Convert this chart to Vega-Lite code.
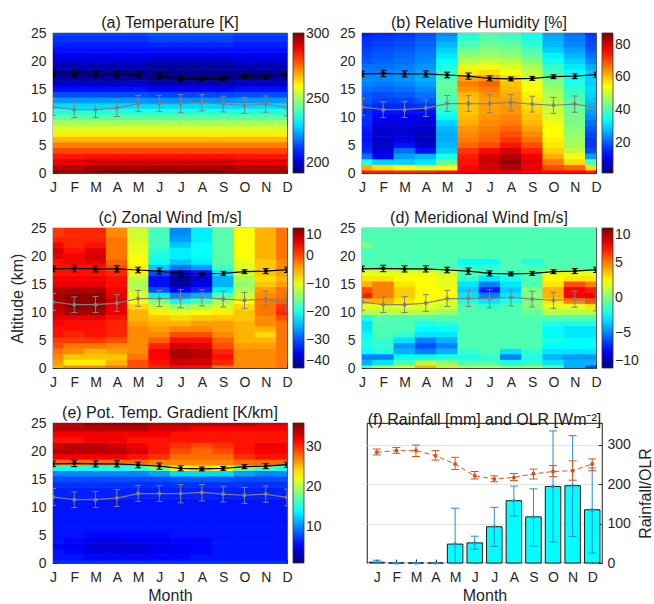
{
"$schema": "https://vega.github.io/schema/vega-lite/v6.json",
"autosize": {"type": "pad"},
"padding": {"left": 8, "top": 14, "right": 0, "bottom": 0},
"config": {
  "font": "Liberation Sans",
  "view": {"stroke": "#444", "strokeWidth": 1.2},
  "title": {"font": "Liberation Sans", "fontSize": 16, "fontWeight": "normal", "color": "#1a1a1a", "frame": "group", "anchor": "middle", "offset": -5},
  "axis": {"labelFont": "Liberation Sans", "labelFontSize": 14, "labelColor": "#262626", "titleFont": "Liberation Sans", "titleFontSize": 16, "titleFontWeight": "normal", "titleColor": "#262626", "grid": false, "domain": false, "ticks": true, "tickSize": -4, "tickColor": "#262626", "labelPadding": 11, "zindex": 1, "labelFlush": false, "labelOverlap": false, "labelBound": false},
  "legend": {"gradientLength": 140, "gradientThickness": 11, "offset": 6, "labelOffset": 5, "gradientStrokeColor": "#333", "gradientStrokeWidth": 0.8, "labelFont": "Liberation Sans", "labelFontSize": 14, "labelColor": "#262626", "labelOverlap": false, "padding": 0}
},
"datasets": {
"lines": [
{"m":1,"c":17.7,"cl":17.2,"ch":18.2,"g":11.8,"gl":10.3,"gh":13.3},
{"m":2,"c":17.8,"cl":17.2,"ch":18.35,"g":11.3,"gl":9.9,"gh":12.7},
{"m":3,"c":17.7,"cl":17.15,"ch":18.25,"g":11.3,"gl":9.9,"gh":12.75},
{"m":4,"c":17.7,"cl":17.15,"ch":18.25,"g":11.6,"gl":10.1,"gh":13.1},
{"m":5,"c":17.5,"cl":17.0,"ch":18.0,"g":12.4,"gl":11.0,"gh":13.85},
{"m":6,"c":17.3,"cl":16.75,"ch":17.85,"g":12.4,"gl":11.0,"gh":13.85},
{"m":7,"c":16.9,"cl":16.45,"ch":17.35,"g":12.4,"gl":10.75,"gh":14.0},
{"m":8,"c":16.8,"cl":16.45,"ch":17.15,"g":12.6,"gl":11.1,"gh":14.0},
{"m":9,"c":16.9,"cl":16.55,"ch":17.25,"g":12.3,"gl":10.9,"gh":13.7},
{"m":10,"c":17.2,"cl":16.85,"ch":17.55,"g":12.1,"gl":10.65,"gh":13.5},
{"m":11,"c":17.3,"cl":16.85,"ch":17.75,"g":12.3,"gl":10.85,"gh":13.75},
{"m":12,"c":17.55,"cl":17.05,"ch":18.0,"g":11.7,"gl":10.2,"gh":13.2}
],
"f": [
{"m":1,"r":2,"rl":0,"rh":7,"o":281,"ol":274,"oh":289},
{"m":2,"r":0,"rl":0,"rh":0,"o":285,"ol":278,"oh":293},
{"m":3,"r":0,"rl":0,"rh":1,"o":285,"ol":270,"oh":299},
{"m":4,"r":0,"rl":0,"rh":0,"o":272,"ol":261,"oh":285},
{"m":5,"r":48,"rl":0,"rh":139,"o":251,"ol":237,"oh":268},
{"m":6,"r":51,"rl":35,"rh":68,"o":221,"ol":213,"oh":232},
{"m":7,"r":92,"rl":42,"rh":141,"o":213,"ol":206,"oh":221},
{"m":8,"r":158,"rl":119,"rh":195,"o":217,"ol":209,"oh":227},
{"m":9,"r":117,"rl":43,"rh":188,"o":226,"ol":213,"oh":238},
{"m":10,"r":194,"rl":53,"rh":335,"o":232,"ol":219,"oh":247},
{"m":11,"r":196,"rl":67,"rh":323,"o":234,"ol":210,"oh":259},
{"m":12,"r":135,"rl":25,"rh":241,"o":251,"ol":234,"oh":264}
],
"grid": [
{"m":1,"z":0,"T":299,"R":74,"U":-5,"V":-1,"P":7},
{"m":1,"z":1,"T":295,"R":62,"U":-4,"V":-4,"P":6},
{"m":1,"z":2,"T":290,"R":36,"U":-3,"V":-5,"P":6},
{"m":1,"z":3,"T":285,"R":22,"U":-2,"V":-2.5,"P":5.5},
{"m":1,"z":4,"T":280,"R":16,"U":0,"V":-2,"P":6},
{"m":1,"z":5,"T":274,"R":15,"U":1,"V":-2,"P":6},
{"m":1,"z":6,"T":268,"R":14,"U":3,"V":-2.5,"P":6},
{"m":1,"z":7,"T":262,"R":14,"U":3,"V":-3,"P":6},
{"m":1,"z":8,"T":256,"R":15,"U":4,"V":-3,"P":6},
{"m":1,"z":9,"T":250,"R":16,"U":5,"V":-2,"P":6},
{"m":1,"z":10,"T":243,"R":17,"U":6,"V":1,"P":6},
{"m":1,"z":11,"T":236,"R":16,"U":7,"V":2,"P":6},
{"m":1,"z":12,"T":229,"R":18,"U":8,"V":4,"P":6.5},
{"m":1,"z":13,"T":222,"R":20,"U":8,"V":7,"P":6.5},
{"m":1,"z":14,"T":214,"R":20,"U":7,"V":6,"P":7},
{"m":1,"z":15,"T":207,"R":22,"U":5,"V":4,"P":8},
{"m":1,"z":16,"T":200,"R":24,"U":4,"V":3,"P":10},
{"m":1,"z":17,"T":195,"R":24,"U":3,"V":2,"P":15},
{"m":1,"z":18,"T":194,"R":23,"U":3,"V":-1,"P":28},
{"m":1,"z":19,"T":197,"R":22,"U":3,"V":-1,"P":32},
{"m":1,"z":20,"T":201,"R":20,"U":5,"V":-1,"P":34},
{"m":1,"z":21,"T":204,"R":19,"U":6,"V":-1,"P":33},
{"m":1,"z":22,"T":207,"R":18,"U":4,"V":0,"P":31},
{"m":1,"z":23,"T":209,"R":17,"U":2,"V":-1,"P":32},
{"m":1,"z":24,"T":211,"R":16,"U":1,"V":-1,"P":34},
{"m":1,"z":25,"T":213,"R":15,"U":1,"V":-1,"P":34},
{"m":2,"z":0,"T":299,"R":74,"U":-3,"V":1,"P":7},
{"m":2,"z":1,"T":295,"R":58,"U":-8,"V":-3,"P":6},
{"m":2,"z":2,"T":290,"R":30,"U":-6,"V":-5,"P":5.5},
{"m":2,"z":3,"T":285,"R":12,"U":-3,"V":-2,"P":5},
{"m":2,"z":4,"T":280,"R":9,"U":-2,"V":-1.5,"P":5.5},
{"m":2,"z":5,"T":274,"R":8,"U":1,"V":-1.5,"P":6},
{"m":2,"z":6,"T":268,"R":8,"U":2,"V":-1,"P":6},
{"m":2,"z":7,"T":262,"R":8,"U":3,"V":-1,"P":6},
{"m":2,"z":8,"T":256,"R":9,"U":3,"V":-1,"P":6},
{"m":2,"z":9,"T":250,"R":10,"U":5,"V":-1,"P":6},
{"m":2,"z":10,"T":243,"R":12,"U":8,"V":1,"P":6},
{"m":2,"z":11,"T":236,"R":14,"U":9,"V":2,"P":6},
{"m":2,"z":12,"T":229,"R":16,"U":9,"V":4,"P":6.5},
{"m":2,"z":13,"T":222,"R":18,"U":9,"V":5,"P":6.5},
{"m":2,"z":14,"T":214,"R":19,"U":8,"V":5,"P":7},
{"m":2,"z":15,"T":207,"R":21,"U":5,"V":5,"P":8},
{"m":2,"z":16,"T":200,"R":23,"U":4,"V":3,"P":10},
{"m":2,"z":17,"T":195,"R":24,"U":3,"V":2,"P":15},
{"m":2,"z":18,"T":194,"R":23,"U":3,"V":-1,"P":28},
{"m":2,"z":19,"T":197,"R":22,"U":4,"V":-1,"P":32},
{"m":2,"z":20,"T":201,"R":21,"U":4,"V":-1,"P":34},
{"m":2,"z":21,"T":204,"R":20,"U":3,"V":-1,"P":34},
{"m":2,"z":22,"T":207,"R":19,"U":2,"V":-1,"P":31},
{"m":2,"z":23,"T":209,"R":18,"U":2,"V":-1,"P":32},
{"m":2,"z":24,"T":211,"R":17,"U":2,"V":-1,"P":34},
{"m":2,"z":25,"T":213,"R":16,"U":2,"V":-1,"P":34},
{"m":3,"z":0,"T":301,"R":74,"U":-3,"V":2,"P":7},
{"m":3,"z":1,"T":297,"R":55,"U":-8,"V":-1,"P":5.5},
{"m":3,"z":2,"T":292,"R":30,"U":-6,"V":-2.5,"P":4.5},
{"m":3,"z":3,"T":286,"R":26,"U":-5,"V":-4,"P":4},
{"m":3,"z":4,"T":280,"R":22,"U":-2,"V":-4.5,"P":4.5},
{"m":3,"z":5,"T":274,"R":14,"U":1,"V":-3,"P":5.5},
{"m":3,"z":6,"T":268,"R":10,"U":3,"V":-1.5,"P":6},
{"m":3,"z":7,"T":262,"R":9,"U":3,"V":-1,"P":6},
{"m":3,"z":8,"T":256,"R":9,"U":3,"V":-1,"P":6},
{"m":3,"z":9,"T":250,"R":10,"U":5,"V":-1,"P":6},
{"m":3,"z":10,"T":243,"R":12,"U":8,"V":1,"P":6},
{"m":3,"z":11,"T":236,"R":14,"U":9,"V":2,"P":6},
{"m":3,"z":12,"T":229,"R":16,"U":9,"V":3,"P":6.5},
{"m":3,"z":13,"T":222,"R":18,"U":9,"V":3.5,"P":6.5},
{"m":3,"z":14,"T":214,"R":20,"U":8,"V":3.5,"P":7},
{"m":3,"z":15,"T":207,"R":22,"U":5,"V":3,"P":8},
{"m":3,"z":16,"T":200,"R":24,"U":4,"V":2.5,"P":10},
{"m":3,"z":17,"T":195,"R":25,"U":3,"V":2,"P":15},
{"m":3,"z":18,"T":194,"R":24,"U":3,"V":-1,"P":28},
{"m":3,"z":19,"T":197,"R":23,"U":5,"V":-1,"P":32},
{"m":3,"z":20,"T":201,"R":22,"U":6,"V":-1,"P":34},
{"m":3,"z":21,"T":204,"R":21,"U":5,"V":-1,"P":34},
{"m":3,"z":22,"T":207,"R":20,"U":3,"V":-1,"P":32},
{"m":3,"z":23,"T":209,"R":19,"U":2,"V":-1,"P":32},
{"m":3,"z":24,"T":211,"R":18,"U":2,"V":-1,"P":34},
{"m":3,"z":25,"T":213,"R":17,"U":2,"V":-1,"P":35},
{"m":4,"z":0,"T":301,"R":74,"U":-2,"V":4,"P":7},
{"m":4,"z":1,"T":297,"R":52,"U":-5,"V":1,"P":5.5},
{"m":4,"z":2,"T":292,"R":32,"U":-6,"V":-2.5,"P":4.5},
{"m":4,"z":3,"T":286,"R":28,"U":-4,"V":-5,"P":4},
{"m":4,"z":4,"T":280,"R":14,"U":-3,"V":-6,"P":4.5},
{"m":4,"z":5,"T":274,"R":8,"U":0,"V":-5,"P":5.5},
{"m":4,"z":6,"T":268,"R":7,"U":2,"V":-3,"P":6},
{"m":4,"z":7,"T":262,"R":7,"U":2,"V":-2.5,"P":6},
{"m":4,"z":8,"T":256,"R":8,"U":2,"V":-2,"P":6},
{"m":4,"z":9,"T":250,"R":9,"U":3,"V":-1,"P":6},
{"m":4,"z":10,"T":243,"R":11,"U":5,"V":1,"P":6},
{"m":4,"z":11,"T":236,"R":14,"U":5,"V":2,"P":6},
{"m":4,"z":12,"T":229,"R":17,"U":6,"V":2.5,"P":6.5},
{"m":4,"z":13,"T":222,"R":20,"U":5,"V":2.5,"P":6.5},
{"m":4,"z":14,"T":214,"R":22,"U":4,"V":2.5,"P":7},
{"m":4,"z":15,"T":207,"R":24,"U":3,"V":2.5,"P":8},
{"m":4,"z":16,"T":200,"R":26,"U":3,"V":2.5,"P":10},
{"m":4,"z":17,"T":195,"R":27,"U":2,"V":2,"P":15},
{"m":4,"z":18,"T":194,"R":26,"U":0,"V":-1,"P":28},
{"m":4,"z":19,"T":197,"R":25,"U":-1,"V":-1,"P":32},
{"m":4,"z":20,"T":201,"R":24,"U":-2,"V":-1,"P":34},
{"m":4,"z":21,"T":204,"R":23,"U":-2,"V":-1,"P":33},
{"m":4,"z":22,"T":207,"R":22,"U":-2,"V":-1,"P":32},
{"m":4,"z":23,"T":209,"R":21,"U":-2,"V":-1,"P":32},
{"m":4,"z":24,"T":211,"R":20,"U":-3,"V":-1,"P":34},
{"m":4,"z":25,"T":213,"R":19,"U":-3,"V":-1,"P":35},
{"m":5,"z":0,"T":301,"R":76,"U":0,"V":3,"P":7},
{"m":5,"z":1,"T":297,"R":55,"U":0,"V":0,"P":5.5},
{"m":5,"z":2,"T":292,"R":42,"U":-2,"V":-2,"P":4.5},
{"m":5,"z":3,"T":286,"R":36,"U":-3,"V":-4,"P":4},
{"m":5,"z":4,"T":280,"R":30,"U":-3,"V":-5,"P":5},
{"m":5,"z":5,"T":274,"R":28,"U":-3,"V":-4,"P":5.5},
{"m":5,"z":6,"T":268,"R":27,"U":-3,"V":-3,"P":6},
{"m":5,"z":7,"T":262,"R":27,"U":-3,"V":-2.5,"P":6},
{"m":5,"z":8,"T":256,"R":28,"U":-4,"V":-1.5,"P":6},
{"m":5,"z":9,"T":250,"R":30,"U":-5,"V":-1,"P":6},
{"m":5,"z":10,"T":243,"R":34,"U":-5,"V":0.5,"P":6},
{"m":5,"z":11,"T":236,"R":37,"U":-7,"V":1.5,"P":6},
{"m":5,"z":12,"T":229,"R":39,"U":-9,"V":2,"P":6.5},
{"m":5,"z":13,"T":222,"R":40,"U":-10,"V":2.5,"P":6.5},
{"m":5,"z":14,"T":214,"R":41,"U":-12,"V":2.5,"P":7},
{"m":5,"z":15,"T":207,"R":42,"U":-13,"V":2,"P":8},
{"m":5,"z":16,"T":200,"R":42,"U":-12,"V":2,"P":10},
{"m":5,"z":17,"T":195,"R":40,"U":-8,"V":1.5,"P":16},
{"m":5,"z":18,"T":194,"R":38,"U":-8,"V":-1,"P":28},
{"m":5,"z":19,"T":197,"R":36,"U":-9,"V":-1,"P":31},
{"m":5,"z":20,"T":201,"R":34,"U":-9,"V":-1,"P":33},
{"m":5,"z":21,"T":204,"R":32,"U":-10,"V":-1,"P":32},
{"m":5,"z":22,"T":207,"R":30,"U":-10,"V":-1,"P":31},
{"m":5,"z":23,"T":209,"R":28,"U":-11,"V":-1,"P":32},
{"m":5,"z":24,"T":211,"R":26,"U":-11,"V":-1,"P":34},
{"m":5,"z":25,"T":213,"R":24,"U":-11,"V":-1,"P":35},
{"m":6,"z":0,"T":301,"R":78,"U":2,"V":1,"P":7},
{"m":6,"z":1,"T":297,"R":76,"U":3,"V":-1,"P":5.5},
{"m":6,"z":2,"T":292,"R":75,"U":4,"V":-2,"P":5},
{"m":6,"z":3,"T":286,"R":74,"U":4,"V":-1.5,"P":4.5},
{"m":6,"z":4,"T":280,"R":72,"U":2,"V":-1,"P":5},
{"m":6,"z":5,"T":274,"R":68,"U":-1,"V":-1,"P":5.5},
{"m":6,"z":6,"T":268,"R":66,"U":-3,"V":-1,"P":6},
{"m":6,"z":7,"T":262,"R":65,"U":-4,"V":-1,"P":6},
{"m":6,"z":8,"T":256,"R":64,"U":-5,"V":-1,"P":6},
{"m":6,"z":9,"T":250,"R":62,"U":-6,"V":-1,"P":6},
{"m":6,"z":10,"T":243,"R":61,"U":-8,"V":-1,"P":6},
{"m":6,"z":11,"T":236,"R":60,"U":-12,"V":-1,"P":6},
{"m":6,"z":12,"T":229,"R":60,"U":-15,"V":-2,"P":6.5},
{"m":6,"z":13,"T":221,"R":60,"U":-22,"V":-3,"P":6.5},
{"m":6,"z":14,"T":213,"R":61,"U":-30,"V":-3.5,"P":7},
{"m":6,"z":15,"T":205,"R":64,"U":-33,"V":-3,"P":8},
{"m":6,"z":16,"T":198,"R":66,"U":-33,"V":-1.5,"P":11},
{"m":6,"z":17,"T":193,"R":63,"U":-30,"V":-1,"P":18},
{"m":6,"z":18,"T":193,"R":57,"U":-24,"V":-1.5,"P":27},
{"m":6,"z":19,"T":195,"R":53,"U":-21,"V":-2.5,"P":30},
{"m":6,"z":20,"T":199,"R":49,"U":-20,"V":-1,"P":31},
{"m":6,"z":21,"T":203,"R":46,"U":-19,"V":-1,"P":31},
{"m":6,"z":22,"T":207,"R":43,"U":-18,"V":-1,"P":31},
{"m":6,"z":23,"T":210,"R":40,"U":-18,"V":-1,"P":32},
{"m":6,"z":24,"T":213,"R":38,"U":-18,"V":-1,"P":33},
{"m":6,"z":25,"T":215,"R":36,"U":-18,"V":-1,"P":34},
{"m":7,"z":0,"T":301,"R":78,"U":3,"V":1,"P":7},
{"m":7,"z":1,"T":297,"R":80,"U":6,"V":-1,"P":5.5},
{"m":7,"z":2,"T":292,"R":81,"U":8,"V":-1.5,"P":5},
{"m":7,"z":3,"T":286,"R":80,"U":8,"V":-1,"P":5},
{"m":7,"z":4,"T":280,"R":76,"U":6,"V":-1,"P":5.5},
{"m":7,"z":5,"T":274,"R":70,"U":3,"V":-1,"P":6},
{"m":7,"z":6,"T":268,"R":68,"U":0,"V":-1,"P":6},
{"m":7,"z":7,"T":262,"R":67,"U":-3,"V":-1,"P":6},
{"m":7,"z":8,"T":256,"R":66,"U":-5,"V":-1,"P":6},
{"m":7,"z":9,"T":250,"R":65,"U":-7,"V":-1,"P":6},
{"m":7,"z":10,"T":243,"R":64,"U":-10,"V":-1,"P":6},
{"m":7,"z":11,"T":236,"R":63,"U":-14,"V":-1.5,"P":6},
{"m":7,"z":12,"T":229,"R":63,"U":-21,"V":-3,"P":6.5},
{"m":7,"z":13,"T":221,"R":63,"U":-27,"V":-5,"P":6.5},
{"m":7,"z":14,"T":213,"R":64,"U":-34,"V":-7,"P":7},
{"m":7,"z":15,"T":205,"R":66,"U":-38,"V":-5,"P":8.5},
{"m":7,"z":16,"T":198,"R":68,"U":-39,"V":-3,"P":13},
{"m":7,"z":17,"T":193,"R":64,"U":-36,"V":-1.5,"P":23},
{"m":7,"z":18,"T":193,"R":58,"U":-28,"V":-1.5,"P":27},
{"m":7,"z":19,"T":195,"R":54,"U":-24,"V":-2.5,"P":28},
{"m":7,"z":20,"T":199,"R":50,"U":-22,"V":-1,"P":29},
{"m":7,"z":21,"T":203,"R":47,"U":-22,"V":-1,"P":30},
{"m":7,"z":22,"T":207,"R":45,"U":-24,"V":-1,"P":31},
{"m":7,"z":23,"T":210,"R":43,"U":-26,"V":-1,"P":31},
{"m":7,"z":24,"T":213,"R":41,"U":-27,"V":-1,"P":33},
{"m":7,"z":25,"T":215,"R":40,"U":-27,"V":-1,"P":34},
{"m":8,"z":0,"T":301,"R":78,"U":3,"V":0.5,"P":7},
{"m":8,"z":1,"T":297,"R":83,"U":6,"V":-2,"P":6},
{"m":8,"z":2,"T":292,"R":85,"U":7,"V":-5,"P":5.5},
{"m":8,"z":3,"T":286,"R":83,"U":7,"V":-3,"P":5.5},
{"m":8,"z":4,"T":280,"R":80,"U":5,"V":-1,"P":5.5},
{"m":8,"z":5,"T":274,"R":75,"U":3,"V":-1,"P":6},
{"m":8,"z":6,"T":268,"R":72,"U":0,"V":-1,"P":6},
{"m":8,"z":7,"T":262,"R":70,"U":-3,"V":-1,"P":6},
{"m":8,"z":8,"T":256,"R":68,"U":-4,"V":-1,"P":6},
{"m":8,"z":9,"T":250,"R":66,"U":-6,"V":-1,"P":6},
{"m":8,"z":10,"T":243,"R":65,"U":-9,"V":-1,"P":6},
{"m":8,"z":11,"T":236,"R":64,"U":-13,"V":-1,"P":6},
{"m":8,"z":12,"T":229,"R":64,"U":-18,"V":-2,"P":6.5},
{"m":8,"z":13,"T":221,"R":63,"U":-25,"V":-3,"P":6.5},
{"m":8,"z":14,"T":213,"R":62,"U":-32,"V":-3.5,"P":7},
{"m":8,"z":15,"T":205,"R":61,"U":-35,"V":-3,"P":8.5},
{"m":8,"z":16,"T":198,"R":60,"U":-36,"V":-2,"P":13},
{"m":8,"z":17,"T":193,"R":58,"U":-33,"V":-1.5,"P":24},
{"m":8,"z":18,"T":193,"R":55,"U":-26,"V":-1,"P":27},
{"m":8,"z":19,"T":195,"R":52,"U":-22,"V":-1,"P":28},
{"m":8,"z":20,"T":199,"R":49,"U":-21,"V":-1,"P":28},
{"m":8,"z":21,"T":203,"R":46,"U":-21,"V":-1,"P":29},
{"m":8,"z":22,"T":207,"R":44,"U":-21,"V":-1,"P":31},
{"m":8,"z":23,"T":210,"R":42,"U":-22,"V":-1,"P":31},
{"m":8,"z":24,"T":213,"R":40,"U":-22,"V":-1,"P":32},
{"m":8,"z":25,"T":215,"R":39,"U":-22,"V":-1,"P":34},
{"m":9,"z":0,"T":301,"R":76,"U":-2,"V":0.5,"P":7},
{"m":9,"z":1,"T":297,"R":78,"U":2,"V":-1.5,"P":6},
{"m":9,"z":2,"T":292,"R":79,"U":3,"V":-2,"P":6},
{"m":9,"z":3,"T":286,"R":77,"U":2,"V":-1.5,"P":6},
{"m":9,"z":4,"T":280,"R":74,"U":0,"V":-1,"P":6},
{"m":9,"z":5,"T":274,"R":70,"U":-1,"V":-1,"P":6},
{"m":9,"z":6,"T":268,"R":67,"U":-3,"V":-1,"P":6},
{"m":9,"z":7,"T":262,"R":65,"U":-4,"V":-1,"P":6},
{"m":9,"z":8,"T":256,"R":63,"U":-4,"V":-1,"P":6},
{"m":9,"z":9,"T":250,"R":61,"U":-6,"V":-1,"P":6},
{"m":9,"z":10,"T":243,"R":60,"U":-8,"V":-0.5,"P":6},
{"m":9,"z":11,"T":236,"R":59,"U":-11,"V":0,"P":6},
{"m":9,"z":12,"T":229,"R":58,"U":-13,"V":0,"P":6.5},
{"m":9,"z":13,"T":221,"R":57,"U":-17,"V":0,"P":6.5},
{"m":9,"z":14,"T":213,"R":56,"U":-22,"V":0,"P":7},
{"m":9,"z":15,"T":205,"R":55,"U":-25,"V":-1,"P":8.5},
{"m":9,"z":16,"T":198,"R":54,"U":-25,"V":-1,"P":13},
{"m":9,"z":17,"T":193,"R":52,"U":-22,"V":-1,"P":23},
{"m":9,"z":18,"T":193,"R":50,"U":-18,"V":-1,"P":27},
{"m":9,"z":19,"T":195,"R":48,"U":-17,"V":-2,"P":28},
{"m":9,"z":20,"T":199,"R":45,"U":-17,"V":-1,"P":29},
{"m":9,"z":21,"T":203,"R":42,"U":-17,"V":-1,"P":30},
{"m":9,"z":22,"T":207,"R":40,"U":-17,"V":-1,"P":31},
{"m":9,"z":23,"T":210,"R":38,"U":-17,"V":-1,"P":31},
{"m":9,"z":24,"T":213,"R":36,"U":-17,"V":-1,"P":32},
{"m":9,"z":25,"T":215,"R":35,"U":-17,"V":-1,"P":34},
{"m":10,"z":0,"T":299,"R":76,"U":-3,"V":-1,"P":7},
{"m":10,"z":1,"T":295,"R":70,"U":-3,"V":-3,"P":6},
{"m":10,"z":2,"T":290,"R":66,"U":-3,"V":-4,"P":6},
{"m":10,"z":3,"T":285,"R":62,"U":-3,"V":-3,"P":6},
{"m":10,"z":4,"T":280,"R":59,"U":-4,"V":-2.5,"P":6},
{"m":10,"z":5,"T":274,"R":57,"U":-5,"V":-2,"P":6},
{"m":10,"z":6,"T":268,"R":56,"U":-5,"V":-2.5,"P":6},
{"m":10,"z":7,"T":262,"R":55,"U":-5,"V":-2.5,"P":6},
{"m":10,"z":8,"T":256,"R":55,"U":-5,"V":-2,"P":6},
{"m":10,"z":9,"T":250,"R":54,"U":-6,"V":-1,"P":6},
{"m":10,"z":10,"T":243,"R":52,"U":-6,"V":1,"P":6},
{"m":10,"z":11,"T":236,"R":51,"U":-7,"V":2,"P":6},
{"m":10,"z":12,"T":229,"R":50,"U":-9,"V":3,"P":6.5},
{"m":10,"z":13,"T":222,"R":49,"U":-11,"V":4,"P":6.5},
{"m":10,"z":14,"T":214,"R":48,"U":-13,"V":4,"P":7},
{"m":10,"z":15,"T":207,"R":47,"U":-14,"V":3,"P":8},
{"m":10,"z":16,"T":200,"R":45,"U":-13,"V":2.5,"P":11},
{"m":10,"z":17,"T":195,"R":43,"U":-11,"V":2,"P":18},
{"m":10,"z":18,"T":194,"R":40,"U":-10,"V":-1,"P":28},
{"m":10,"z":19,"T":197,"R":38,"U":-10,"V":-1,"P":30},
{"m":10,"z":20,"T":201,"R":35,"U":-9,"V":-1,"P":31},
{"m":10,"z":21,"T":204,"R":33,"U":-9,"V":-1,"P":31},
{"m":10,"z":22,"T":207,"R":30,"U":-9,"V":-1,"P":31},
{"m":10,"z":23,"T":209,"R":28,"U":-9,"V":-1,"P":31},
{"m":10,"z":24,"T":211,"R":27,"U":-9,"V":-1,"P":32},
{"m":10,"z":25,"T":213,"R":26,"U":-9,"V":-1,"P":34},
{"m":11,"z":0,"T":299,"R":76,"U":-3,"V":-4,"P":7},
{"m":11,"z":1,"T":295,"R":68,"U":-3,"V":-4,"P":6},
{"m":11,"z":2,"T":290,"R":58,"U":-3,"V":-4.5,"P":6},
{"m":11,"z":3,"T":285,"R":54,"U":-3,"V":-3,"P":6},
{"m":11,"z":4,"T":280,"R":50,"U":-4,"V":-2.5,"P":6},
{"m":11,"z":5,"T":274,"R":48,"U":-5,"V":-2.5,"P":6},
{"m":11,"z":6,"T":268,"R":47,"U":-7,"V":-3,"P":6},
{"m":11,"z":7,"T":262,"R":46,"U":-5,"V":-3,"P":6},
{"m":11,"z":8,"T":256,"R":45,"U":-3,"V":-2,"P":6},
{"m":11,"z":9,"T":250,"R":44,"U":-3,"V":-1,"P":6},
{"m":11,"z":10,"T":243,"R":44,"U":-2,"V":1,"P":6},
{"m":11,"z":11,"T":236,"R":43,"U":-2,"V":2,"P":6},
{"m":11,"z":12,"T":229,"R":42,"U":-2,"V":5,"P":6.5},
{"m":11,"z":13,"T":222,"R":41,"U":-3,"V":7.5,"P":6.5},
{"m":11,"z":14,"T":214,"R":39,"U":-4,"V":7.5,"P":7},
{"m":11,"z":15,"T":207,"R":38,"U":-6,"V":6,"P":8},
{"m":11,"z":16,"T":200,"R":36,"U":-7,"V":3,"P":10},
{"m":11,"z":17,"T":195,"R":35,"U":-6,"V":2,"P":16},
{"m":11,"z":18,"T":194,"R":34,"U":-6,"V":-1,"P":28},
{"m":11,"z":19,"T":197,"R":32,"U":-6,"V":-1,"P":31},
{"m":11,"z":20,"T":201,"R":30,"U":-5,"V":-1,"P":32},
{"m":11,"z":21,"T":204,"R":28,"U":-5,"V":-1,"P":32},
{"m":11,"z":22,"T":207,"R":26,"U":-5,"V":-1,"P":31},
{"m":11,"z":23,"T":209,"R":24,"U":-5,"V":-1,"P":31},
{"m":11,"z":24,"T":211,"R":23,"U":-5,"V":-1,"P":32},
{"m":11,"z":25,"T":213,"R":22,"U":-5,"V":-1,"P":33},
{"m":12,"z":0,"T":299,"R":75,"U":-2,"V":-6,"P":7},
{"m":12,"z":1,"T":295,"R":58,"U":-2,"V":-4,"P":6},
{"m":12,"z":2,"T":290,"R":40,"U":-2,"V":-4.5,"P":6},
{"m":12,"z":3,"T":285,"R":26,"U":-2,"V":-3,"P":6},
{"m":12,"z":4,"T":280,"R":19,"U":-2,"V":-2.5,"P":6},
{"m":12,"z":5,"T":274,"R":17,"U":-2,"V":-2.5,"P":6},
{"m":12,"z":6,"T":268,"R":17,"U":-2,"V":-3,"P":6},
{"m":12,"z":7,"T":262,"R":18,"U":-2,"V":-3,"P":6},
{"m":12,"z":8,"T":256,"R":20,"U":-2,"V":-2,"P":6},
{"m":12,"z":9,"T":250,"R":22,"U":0,"V":-1,"P":6},
{"m":12,"z":10,"T":243,"R":24,"U":2,"V":1,"P":6},
{"m":12,"z":11,"T":236,"R":26,"U":1,"V":3,"P":6},
{"m":12,"z":12,"T":229,"R":28,"U":-1,"V":6,"P":6.5},
{"m":12,"z":13,"T":222,"R":29,"U":-2,"V":8,"P":6.5},
{"m":12,"z":14,"T":214,"R":30,"U":-2,"V":7,"P":7},
{"m":12,"z":15,"T":207,"R":31,"U":-4,"V":5,"P":8},
{"m":12,"z":16,"T":200,"R":30,"U":-5,"V":3,"P":10},
{"m":12,"z":17,"T":195,"R":30,"U":-4,"V":2,"P":15},
{"m":12,"z":18,"T":194,"R":29,"U":-3,"V":-1,"P":28},
{"m":12,"z":19,"T":197,"R":27,"U":-3,"V":-1,"P":31},
{"m":12,"z":20,"T":201,"R":24,"U":-2,"V":-1,"P":32},
{"m":12,"z":21,"T":204,"R":22,"U":-2,"V":-1,"P":32},
{"m":12,"z":22,"T":207,"R":20,"U":-2,"V":-1,"P":31},
{"m":12,"z":23,"T":209,"R":19,"U":-2,"V":-1,"P":31},
{"m":12,"z":24,"T":211,"R":18,"U":-2,"V":-1,"P":32},
{"m":12,"z":25,"T":213,"R":17,"U":-2,"V":-1,"P":33}
]
},
"vconcat": [
{"hconcat": [
 {"width": 234, "height": 140, "title": {"text": "(a) Temperature [K]"},
  "encoding": {"x": {"field": "m", "type": "quantitative", "scale": {"domain": [1, 12], "nice": false, "zero": false, "padding": 0}, "axis": {"values": [1,2,3,4,5,6,7,8,9,10,11,12], "labelExpr": "['J','F','M','A','M','J','J','A','S','O','N','D'][datum.value-1]", "labelOverlap": false, "title": null}}},
  "layer": [
   {"data": {"name": "grid"}, "mark": {"type": "point", "shape": "M-1,-0.28H1V0.28H-1Z", "size": 484, "filled": true, "opacity": 1, "clip": true, "strokeWidth": 0},
    "encoding": {"y": {"field": "z", "type": "quantitative", "scale": {"domain": [0, 25], "nice": false, "zero": false, "padding": 0}, "axis": {"values": [0,5,10,15,20,25], "title": null}},
     "color": {"field": "T", "type": "quantitative", "scale": {"domain": [192,205.625,219.25,232.875,246.5,260.125,273.75,287.375,301], "range": ["#000080","#0000ff","#0080ff","#00ffff","#80ff80","#ffff00","#ff8000","#ff0000","#800000"], "interpolate": "rgb"}, "legend": {"title": null, "values": [200,250,300]}}}},
   {"data": {"name": "lines"}, "mark": {"type": "rule", "color": "#808080", "strokeWidth": 1, "clip": true}, "encoding": {"y": {"field": "gl", "type": "quantitative", "axis": {"values": [0,5,10,15,20,25], "title": null}}, "y2": {"field": "gh"}}},
   {"data": {"name": "lines"}, "mark": {"type": "tick", "orient": "horizontal", "size": 6, "thickness": 1, "color": "#808080", "opacity": 1, "clip": true}, "encoding": {"y": {"field": "gl", "type": "quantitative", "axis": {"values": [0,5,10,15,20,25], "title": null}}}},
   {"data": {"name": "lines"}, "mark": {"type": "tick", "orient": "horizontal", "size": 6, "thickness": 1, "color": "#808080", "opacity": 1, "clip": true}, "encoding": {"y": {"field": "gh", "type": "quantitative", "axis": {"values": [0,5,10,15,20,25], "title": null}}}},
   {"data": {"name": "lines"}, "mark": {"type": "line", "color": "#808080", "strokeWidth": 1.2, "clip": true, "point": {"filled": true, "size": 16, "color": "#808080", "opacity": 1}}, "encoding": {"y": {"field": "g", "type": "quantitative", "axis": {"values": [0,5,10,15,20,25], "title": null}}}},
   {"data": {"name": "lines"}, "mark": {"type": "rule", "color": "#000000", "strokeWidth": 1, "clip": true}, "encoding": {"y": {"field": "cl", "type": "quantitative", "axis": {"values": [0,5,10,15,20,25], "title": null}}, "y2": {"field": "ch"}}},
   {"data": {"name": "lines"}, "mark": {"type": "tick", "orient": "horizontal", "size": 6, "thickness": 1, "color": "#000000", "opacity": 1, "clip": true}, "encoding": {"y": {"field": "cl", "type": "quantitative", "axis": {"values": [0,5,10,15,20,25], "title": null}}}},
   {"data": {"name": "lines"}, "mark": {"type": "tick", "orient": "horizontal", "size": 6, "thickness": 1, "color": "#000000", "opacity": 1, "clip": true}, "encoding": {"y": {"field": "ch", "type": "quantitative", "axis": {"values": [0,5,10,15,20,25], "title": null}}}},
   {"data": {"name": "lines"}, "mark": {"type": "line", "color": "#000000", "strokeWidth": 1.2, "clip": true, "point": {"filled": true, "size": 16, "color": "#000000", "opacity": 1}}, "encoding": {"y": {"field": "c", "type": "quantitative", "axis": {"values": [0,5,10,15,20,25], "title": null}}}}
  ]},
 {"width": 234, "height": 140, "title": {"text": "(b) Relative Humidity [%]"},
  "encoding": {"x": {"field": "m", "type": "quantitative", "scale": {"domain": [1, 12], "nice": false, "zero": false, "padding": 0}, "axis": {"values": [1,2,3,4,5,6,7,8,9,10,11,12], "labelExpr": "['J','F','M','A','M','J','J','A','S','O','N','D'][datum.value-1]", "labelOverlap": false, "title": null}}},
  "layer": [
   {"data": {"name": "grid"}, "mark": {"type": "point", "shape": "M-1,-0.28H1V0.28H-1Z", "size": 484, "filled": true, "opacity": 1, "clip": true, "strokeWidth": 0},
    "encoding": {"y": {"field": "z", "type": "quantitative", "scale": {"domain": [0, 25], "nice": false, "zero": false, "padding": 0}, "axis": {"values": [0,5,10,15,20,25], "title": null}},
     "color": {"field": "R", "type": "quantitative", "scale": {"domain": [2,12.625,23.25,33.875,44.5,55.125,65.75,76.375,87], "range": ["#000080","#0000ff","#0080ff","#00ffff","#80ff80","#ffff00","#ff8000","#ff0000","#800000"], "interpolate": "rgb"}, "legend": {"title": null, "values": [20,40,60,80]}}}},
   {"data": {"name": "lines"}, "mark": {"type": "rule", "color": "#808080", "strokeWidth": 1, "clip": true}, "encoding": {"y": {"field": "gl", "type": "quantitative", "axis": {"values": [0,5,10,15,20,25], "title": null}}, "y2": {"field": "gh"}}},
   {"data": {"name": "lines"}, "mark": {"type": "tick", "orient": "horizontal", "size": 6, "thickness": 1, "color": "#808080", "opacity": 1, "clip": true}, "encoding": {"y": {"field": "gl", "type": "quantitative", "axis": {"values": [0,5,10,15,20,25], "title": null}}}},
   {"data": {"name": "lines"}, "mark": {"type": "tick", "orient": "horizontal", "size": 6, "thickness": 1, "color": "#808080", "opacity": 1, "clip": true}, "encoding": {"y": {"field": "gh", "type": "quantitative", "axis": {"values": [0,5,10,15,20,25], "title": null}}}},
   {"data": {"name": "lines"}, "mark": {"type": "line", "color": "#808080", "strokeWidth": 1.2, "clip": true, "point": {"filled": true, "size": 16, "color": "#808080", "opacity": 1}}, "encoding": {"y": {"field": "g", "type": "quantitative", "axis": {"values": [0,5,10,15,20,25], "title": null}}}},
   {"data": {"name": "lines"}, "mark": {"type": "rule", "color": "#000000", "strokeWidth": 1, "clip": true}, "encoding": {"y": {"field": "cl", "type": "quantitative", "axis": {"values": [0,5,10,15,20,25], "title": null}}, "y2": {"field": "ch"}}},
   {"data": {"name": "lines"}, "mark": {"type": "tick", "orient": "horizontal", "size": 6, "thickness": 1, "color": "#000000", "opacity": 1, "clip": true}, "encoding": {"y": {"field": "cl", "type": "quantitative", "axis": {"values": [0,5,10,15,20,25], "title": null}}}},
   {"data": {"name": "lines"}, "mark": {"type": "tick", "orient": "horizontal", "size": 6, "thickness": 1, "color": "#000000", "opacity": 1, "clip": true}, "encoding": {"y": {"field": "ch", "type": "quantitative", "axis": {"values": [0,5,10,15,20,25], "title": null}}}},
   {"data": {"name": "lines"}, "mark": {"type": "line", "color": "#000000", "strokeWidth": 1.2, "clip": true, "point": {"filled": true, "size": 16, "color": "#000000", "opacity": 1}}, "encoding": {"y": {"field": "c", "type": "quantitative", "axis": {"values": [0,5,10,15,20,25], "title": null}}}}
  ]}
 ], "spacing": 75, "bounds": "flush", "resolve": {"scale": {"color": "independent"}}},
{"hconcat": [
 {"width": 234, "height": 140, "title": {"text": "(c) Zonal Wind [m/s]"},
  "encoding": {"x": {"field": "m", "type": "quantitative", "scale": {"domain": [1, 12], "nice": false, "zero": false, "padding": 0}, "axis": {"values": [1,2,3,4,5,6,7,8,9,10,11,12], "labelExpr": "['J','F','M','A','M','J','J','A','S','O','N','D'][datum.value-1]", "labelOverlap": false, "title": null}}},
  "layer": [
   {"data": {"name": "grid"}, "mark": {"type": "point", "shape": "M-1,-0.28H1V0.28H-1Z", "size": 484, "filled": true, "opacity": 1, "clip": true, "strokeWidth": 0},
    "encoding": {"y": {"field": "z", "type": "quantitative", "scale": {"domain": [0, 25], "nice": false, "zero": false, "padding": 0}, "axis": {"values": [0,5,10,15,20,25], "title": "Altitude (km)", "titlePadding": 5}},
     "color": {"field": "U", "type": "quantitative", "scale": {"domain": [-40,-33.75,-27.5,-21.25,-15,-8.75,-2.5,3.75,10], "range": ["#000080","#0000ff","#0080ff","#00ffff","#80ff80","#ffff00","#ff8000","#ff0000","#800000"], "interpolate": "rgb"}, "legend": {"title": null, "values": [-40,-30,-20,-10,0,10]}}}},
   {"data": {"name": "lines"}, "mark": {"type": "rule", "color": "#808080", "strokeWidth": 1, "clip": true}, "encoding": {"y": {"field": "gl", "type": "quantitative", "axis": {"values": [0,5,10,15,20,25], "title": "Altitude (km)", "titlePadding": 5}}, "y2": {"field": "gh"}}},
   {"data": {"name": "lines"}, "mark": {"type": "tick", "orient": "horizontal", "size": 6, "thickness": 1, "color": "#808080", "opacity": 1, "clip": true}, "encoding": {"y": {"field": "gl", "type": "quantitative", "axis": {"values": [0,5,10,15,20,25], "title": "Altitude (km)", "titlePadding": 5}}}},
   {"data": {"name": "lines"}, "mark": {"type": "tick", "orient": "horizontal", "size": 6, "thickness": 1, "color": "#808080", "opacity": 1, "clip": true}, "encoding": {"y": {"field": "gh", "type": "quantitative", "axis": {"values": [0,5,10,15,20,25], "title": "Altitude (km)", "titlePadding": 5}}}},
   {"data": {"name": "lines"}, "mark": {"type": "line", "color": "#808080", "strokeWidth": 1.2, "clip": true, "point": {"filled": true, "size": 16, "color": "#808080", "opacity": 1}}, "encoding": {"y": {"field": "g", "type": "quantitative", "axis": {"values": [0,5,10,15,20,25], "title": "Altitude (km)", "titlePadding": 5}}}},
   {"data": {"name": "lines"}, "mark": {"type": "rule", "color": "#000000", "strokeWidth": 1, "clip": true}, "encoding": {"y": {"field": "cl", "type": "quantitative", "axis": {"values": [0,5,10,15,20,25], "title": "Altitude (km)", "titlePadding": 5}}, "y2": {"field": "ch"}}},
   {"data": {"name": "lines"}, "mark": {"type": "tick", "orient": "horizontal", "size": 6, "thickness": 1, "color": "#000000", "opacity": 1, "clip": true}, "encoding": {"y": {"field": "cl", "type": "quantitative", "axis": {"values": [0,5,10,15,20,25], "title": "Altitude (km)", "titlePadding": 5}}}},
   {"data": {"name": "lines"}, "mark": {"type": "tick", "orient": "horizontal", "size": 6, "thickness": 1, "color": "#000000", "opacity": 1, "clip": true}, "encoding": {"y": {"field": "ch", "type": "quantitative", "axis": {"values": [0,5,10,15,20,25], "title": "Altitude (km)", "titlePadding": 5}}}},
   {"data": {"name": "lines"}, "mark": {"type": "line", "color": "#000000", "strokeWidth": 1.2, "clip": true, "point": {"filled": true, "size": 16, "color": "#000000", "opacity": 1}}, "encoding": {"y": {"field": "c", "type": "quantitative", "axis": {"values": [0,5,10,15,20,25], "title": "Altitude (km)", "titlePadding": 5}}}}
  ]},
 {"width": 234, "height": 140, "title": {"text": "(d) Meridional Wind [m/s]"},
  "encoding": {"x": {"field": "m", "type": "quantitative", "scale": {"domain": [1, 12], "nice": false, "zero": false, "padding": 0}, "axis": {"values": [1,2,3,4,5,6,7,8,9,10,11,12], "labelExpr": "['J','F','M','A','M','J','J','A','S','O','N','D'][datum.value-1]", "labelOverlap": false, "title": null}}},
  "layer": [
   {"data": {"name": "grid"}, "mark": {"type": "point", "shape": "M-1,-0.28H1V0.28H-1Z", "size": 484, "filled": true, "opacity": 1, "clip": true, "strokeWidth": 0},
    "encoding": {"y": {"field": "z", "type": "quantitative", "scale": {"domain": [0, 25], "nice": false, "zero": false, "padding": 0}, "axis": {"values": [0,5,10,15,20,25], "title": null}},
     "color": {"field": "V", "type": "quantitative", "scale": {"domain": [-10,-7.5,-5,-2.5,0,2.5,5,7.5,10], "range": ["#000080","#0000ff","#0080ff","#00ffff","#80ff80","#ffff00","#ff8000","#ff0000","#800000"], "interpolate": "rgb"}, "legend": {"title": null, "values": [-10,-5,0,5,10]}}}},
   {"data": {"name": "lines"}, "mark": {"type": "rule", "color": "#808080", "strokeWidth": 1, "clip": true}, "encoding": {"y": {"field": "gl", "type": "quantitative", "axis": {"values": [0,5,10,15,20,25], "title": null}}, "y2": {"field": "gh"}}},
   {"data": {"name": "lines"}, "mark": {"type": "tick", "orient": "horizontal", "size": 6, "thickness": 1, "color": "#808080", "opacity": 1, "clip": true}, "encoding": {"y": {"field": "gl", "type": "quantitative", "axis": {"values": [0,5,10,15,20,25], "title": null}}}},
   {"data": {"name": "lines"}, "mark": {"type": "tick", "orient": "horizontal", "size": 6, "thickness": 1, "color": "#808080", "opacity": 1, "clip": true}, "encoding": {"y": {"field": "gh", "type": "quantitative", "axis": {"values": [0,5,10,15,20,25], "title": null}}}},
   {"data": {"name": "lines"}, "mark": {"type": "line", "color": "#808080", "strokeWidth": 1.2, "clip": true, "point": {"filled": true, "size": 16, "color": "#808080", "opacity": 1}}, "encoding": {"y": {"field": "g", "type": "quantitative", "axis": {"values": [0,5,10,15,20,25], "title": null}}}},
   {"data": {"name": "lines"}, "mark": {"type": "rule", "color": "#000000", "strokeWidth": 1, "clip": true}, "encoding": {"y": {"field": "cl", "type": "quantitative", "axis": {"values": [0,5,10,15,20,25], "title": null}}, "y2": {"field": "ch"}}},
   {"data": {"name": "lines"}, "mark": {"type": "tick", "orient": "horizontal", "size": 6, "thickness": 1, "color": "#000000", "opacity": 1, "clip": true}, "encoding": {"y": {"field": "cl", "type": "quantitative", "axis": {"values": [0,5,10,15,20,25], "title": null}}}},
   {"data": {"name": "lines"}, "mark": {"type": "tick", "orient": "horizontal", "size": 6, "thickness": 1, "color": "#000000", "opacity": 1, "clip": true}, "encoding": {"y": {"field": "ch", "type": "quantitative", "axis": {"values": [0,5,10,15,20,25], "title": null}}}},
   {"data": {"name": "lines"}, "mark": {"type": "line", "color": "#000000", "strokeWidth": 1.2, "clip": true, "point": {"filled": true, "size": 16, "color": "#000000", "opacity": 1}}, "encoding": {"y": {"field": "c", "type": "quantitative", "axis": {"values": [0,5,10,15,20,25], "title": null}}}}
  ]}
 ], "spacing": 75, "bounds": "flush", "resolve": {"scale": {"color": "independent"}}},
{"hconcat": [
 {"width": 234, "height": 140, "title": {"text": "(e) Pot. Temp. Gradient [K/km]"},
  "encoding": {"x": {"field": "m", "type": "quantitative", "scale": {"domain": [1, 12], "nice": false, "zero": false, "padding": 0}, "axis": {"values": [1,2,3,4,5,6,7,8,9,10,11,12], "labelExpr": "['J','F','M','A','M','J','J','A','S','O','N','D'][datum.value-1]", "labelOverlap": false, "title": "Month", "titlePadding": 3}}},
  "layer": [
   {"data": {"name": "grid"}, "mark": {"type": "point", "shape": "M-1,-0.28H1V0.28H-1Z", "size": 484, "filled": true, "opacity": 1, "clip": true, "strokeWidth": 0},
    "encoding": {"y": {"field": "z", "type": "quantitative", "scale": {"domain": [0, 25], "nice": false, "zero": false, "padding": 0}, "axis": {"values": [0,5,10,15,20,25], "title": null}},
     "color": {"field": "P", "type": "quantitative", "scale": {"domain": [1,5.375,9.75,14.125,18.5,22.875,27.25,31.625,36], "range": ["#000080","#0000ff","#0080ff","#00ffff","#80ff80","#ffff00","#ff8000","#ff0000","#800000"], "interpolate": "rgb"}, "legend": {"title": null, "values": [10,20,30]}}}},
   {"data": {"name": "lines"}, "mark": {"type": "rule", "color": "#808080", "strokeWidth": 1, "clip": true}, "encoding": {"y": {"field": "gl", "type": "quantitative", "axis": {"values": [0,5,10,15,20,25], "title": null}}, "y2": {"field": "gh"}}},
   {"data": {"name": "lines"}, "mark": {"type": "tick", "orient": "horizontal", "size": 6, "thickness": 1, "color": "#808080", "opacity": 1, "clip": true}, "encoding": {"y": {"field": "gl", "type": "quantitative", "axis": {"values": [0,5,10,15,20,25], "title": null}}}},
   {"data": {"name": "lines"}, "mark": {"type": "tick", "orient": "horizontal", "size": 6, "thickness": 1, "color": "#808080", "opacity": 1, "clip": true}, "encoding": {"y": {"field": "gh", "type": "quantitative", "axis": {"values": [0,5,10,15,20,25], "title": null}}}},
   {"data": {"name": "lines"}, "mark": {"type": "line", "color": "#808080", "strokeWidth": 1.2, "clip": true, "point": {"filled": true, "size": 16, "color": "#808080", "opacity": 1}}, "encoding": {"y": {"field": "g", "type": "quantitative", "axis": {"values": [0,5,10,15,20,25], "title": null}}}},
   {"data": {"name": "lines"}, "mark": {"type": "rule", "color": "#000000", "strokeWidth": 1, "clip": true}, "encoding": {"y": {"field": "cl", "type": "quantitative", "axis": {"values": [0,5,10,15,20,25], "title": null}}, "y2": {"field": "ch"}}},
   {"data": {"name": "lines"}, "mark": {"type": "tick", "orient": "horizontal", "size": 6, "thickness": 1, "color": "#000000", "opacity": 1, "clip": true}, "encoding": {"y": {"field": "cl", "type": "quantitative", "axis": {"values": [0,5,10,15,20,25], "title": null}}}},
   {"data": {"name": "lines"}, "mark": {"type": "tick", "orient": "horizontal", "size": 6, "thickness": 1, "color": "#000000", "opacity": 1, "clip": true}, "encoding": {"y": {"field": "ch", "type": "quantitative", "axis": {"values": [0,5,10,15,20,25], "title": null}}}},
   {"data": {"name": "lines"}, "mark": {"type": "line", "color": "#000000", "strokeWidth": 1.2, "clip": true, "point": {"filled": true, "size": 16, "color": "#000000", "opacity": 1}}, "encoding": {"y": {"field": "c", "type": "quantitative", "axis": {"values": [0,5,10,15,20,25], "title": null}}}}
  ]},
 {"width": 235, "height": 140, "title": {"text": "(f) Rainfall [mm] and OLR [Wm⁻²]"},
  "data": {"name": "f"},
  "encoding": {"x": {"field": "m", "type": "quantitative", "scale": {"domain": [0.5, 12.5], "nice": false, "zero": false, "padding": 0}, "axis": {"values": [1,2,3,4,5,6,7,8,9,10,11,12], "labelExpr": "['J','F','M','A','M','J','J','A','S','O','N','D'][datum.value-1]", "labelOverlap": false, "title": "Month", "titlePadding": 3}}},
  "layer": [
   {"mark": {"type": "bar", "width": 15.5, "color": "#00ffff", "stroke": "#1a1a1a", "strokeWidth": 1},
    "encoding": {"y": {"field": "r", "type": "quantitative", "scale": {"domain": [0, 355], "nice": false, "zero": true, "padding": 0}, "axis": {"orient": "right", "values": [0,100,200,300], "grid": true, "gridColor": "#e3e3e3", "zindex": 0, "labelPadding": 9, "title": "Rainfall/OLR", "titleAngle": 270, "titleBaseline": "top", "titlePadding": 7}}}},
   {"mark": {"type": "rule", "color": "#2a8bd0", "strokeWidth": 1}, "encoding": {"y": {"field": "rl", "type": "quantitative", "axis": {"orient": "right", "values": [0,100,200,300], "grid": true, "gridColor": "#e3e3e3", "zindex": 0, "labelPadding": 9, "title": "Rainfall/OLR", "titleAngle": 270, "titleBaseline": "top", "titlePadding": 7}}, "y2": {"field": "rh"}}},
   {"mark": {"type": "tick", "orient": "horizontal", "size": 8, "thickness": 1, "color": "#2a8bd0", "opacity": 1}, "encoding": {"y": {"field": "rl", "type": "quantitative", "axis": {"orient": "right", "values": [0,100,200,300], "grid": true, "gridColor": "#e3e3e3", "zindex": 0, "labelPadding": 9, "title": "Rainfall/OLR", "titleAngle": 270, "titleBaseline": "top", "titlePadding": 7}}}},
   {"mark": {"type": "tick", "orient": "horizontal", "size": 8, "thickness": 1, "color": "#2a8bd0", "opacity": 1}, "encoding": {"y": {"field": "rh", "type": "quantitative", "axis": {"orient": "right", "values": [0,100,200,300], "grid": true, "gridColor": "#e3e3e3", "zindex": 0, "labelPadding": 9, "title": "Rainfall/OLR", "titleAngle": 270, "titleBaseline": "top", "titlePadding": 7}}}},
   {"mark": {"type": "point", "filled": true, "size": 12, "color": "#2a8bd0", "opacity": 1}, "encoding": {"y": {"field": "r", "type": "quantitative", "axis": {"orient": "right", "values": [0,100,200,300], "grid": true, "gridColor": "#e3e3e3", "zindex": 0, "labelPadding": 9, "title": "Rainfall/OLR", "titleAngle": 270, "titleBaseline": "top", "titlePadding": 7}}}},
   {"mark": {"type": "rule", "color": "#d95319", "strokeWidth": 1}, "encoding": {"y": {"field": "ol", "type": "quantitative", "axis": {"orient": "right", "values": [0,100,200,300], "grid": true, "gridColor": "#e3e3e3", "zindex": 0, "labelPadding": 9, "title": "Rainfall/OLR", "titleAngle": 270, "titleBaseline": "top", "titlePadding": 7}}, "y2": {"field": "oh"}}},
   {"mark": {"type": "tick", "orient": "horizontal", "size": 8, "thickness": 1, "color": "#d95319", "opacity": 1}, "encoding": {"y": {"field": "ol", "type": "quantitative", "axis": {"orient": "right", "values": [0,100,200,300], "grid": true, "gridColor": "#e3e3e3", "zindex": 0, "labelPadding": 9, "title": "Rainfall/OLR", "titleAngle": 270, "titleBaseline": "top", "titlePadding": 7}}}},
   {"mark": {"type": "tick", "orient": "horizontal", "size": 8, "thickness": 1, "color": "#d95319", "opacity": 1}, "encoding": {"y": {"field": "oh", "type": "quantitative", "axis": {"orient": "right", "values": [0,100,200,300], "grid": true, "gridColor": "#e3e3e3", "zindex": 0, "labelPadding": 9, "title": "Rainfall/OLR", "titleAngle": 270, "titleBaseline": "top", "titlePadding": 7}}}},
   {"mark": {"type": "line", "color": "#d95319", "strokeWidth": 1, "strokeDash": [5, 3], "point": {"filled": true, "size": 16, "color": "#d95319", "opacity": 1}}, "encoding": {"y": {"field": "o", "type": "quantitative", "axis": {"orient": "right", "values": [0,100,200,300], "grid": true, "gridColor": "#e3e3e3", "zindex": 0, "labelPadding": 9, "title": "Rainfall/OLR", "titleAngle": 270, "titleBaseline": "top", "titlePadding": 7}}}}
  ]}
 ], "spacing": 80, "bounds": "flush", "resolve": {"scale": {"color": "independent"}}}
],
"spacing": 14,
"resolve": {"scale": {"color": "independent"}}
}
